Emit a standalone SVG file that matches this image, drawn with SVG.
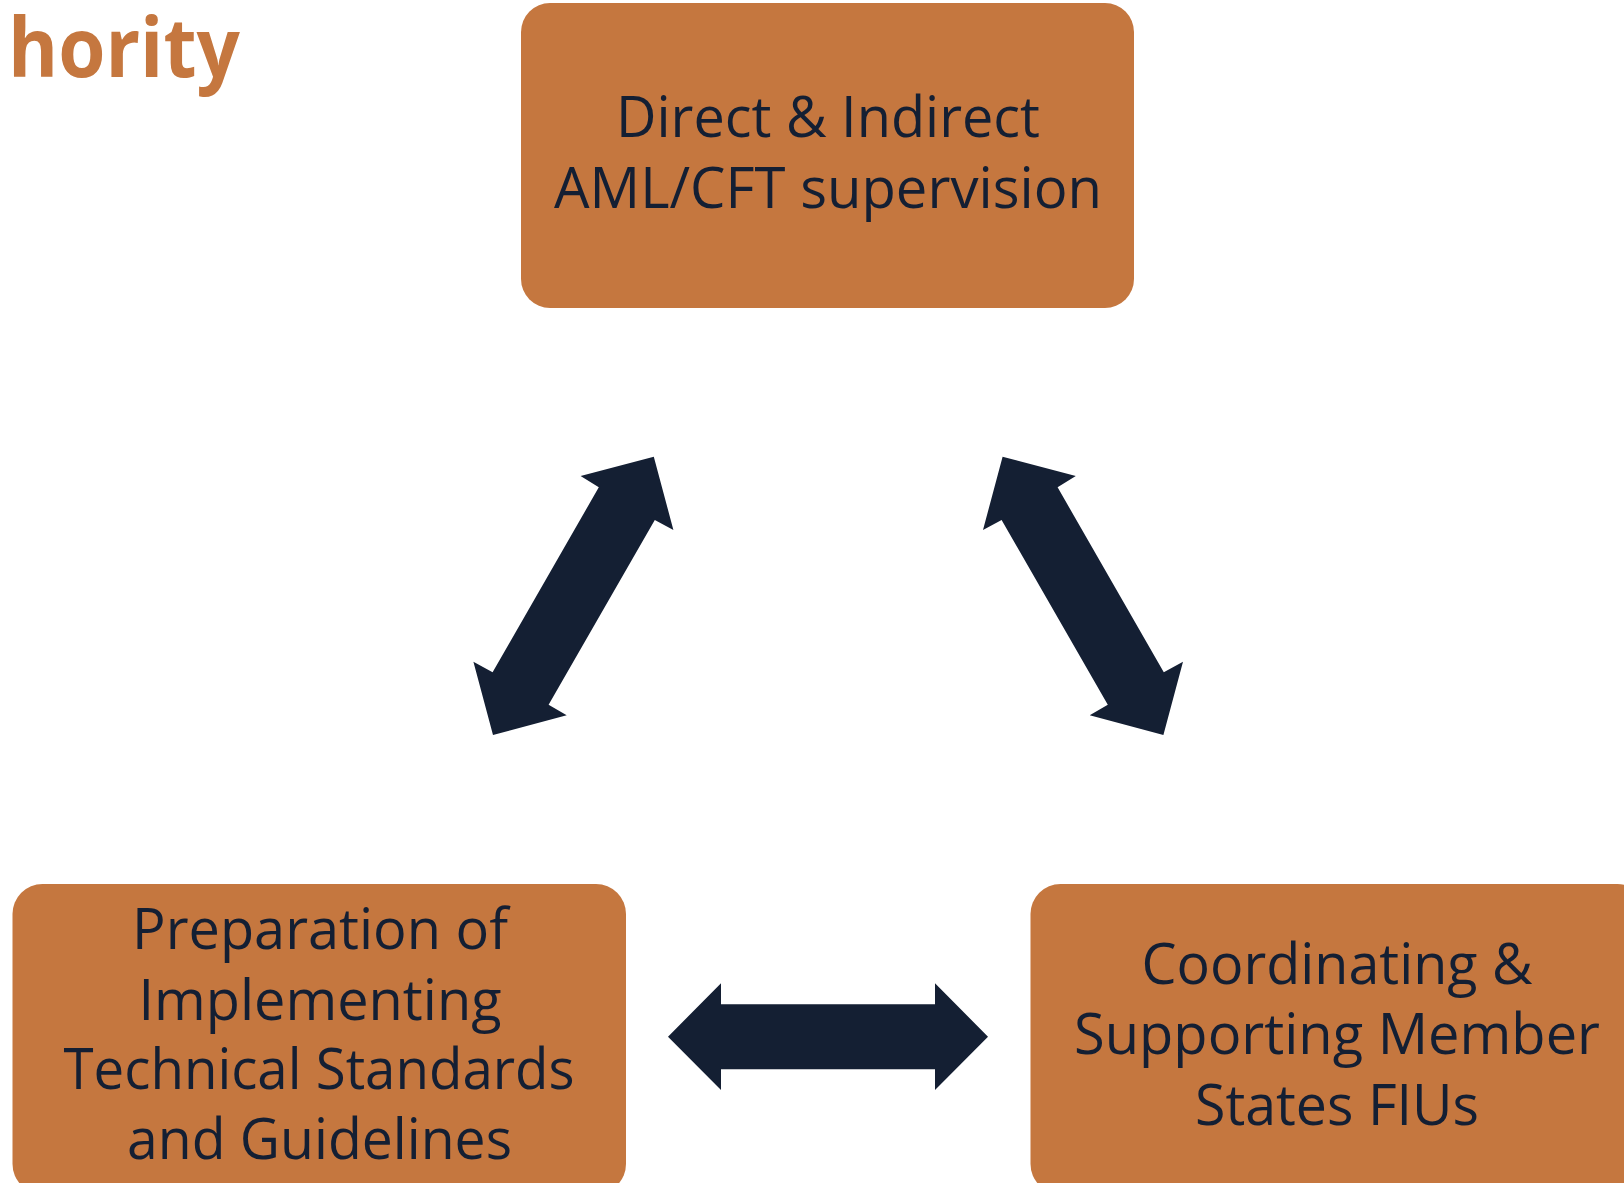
<svg xmlns="http://www.w3.org/2000/svg" width="1624" height="1183" viewBox="0 0 1624 1183">
  <style>
    .box { fill: #C5773F; }
    .label { font-family: "Open Sans", "Liberation Sans", sans-serif; font-size: 56px; fill: #141F33; text-anchor: middle; }
    .title { font-family: "Open Sans", "Liberation Sans", sans-serif; font-weight: bold; font-size: 82px; fill: #C5773F; }
    .arrow { fill: #141F33; }
  </style>
  <rect width="1624" height="1183" fill="#FFFFFF"/>

  <!-- heading, clipped at the left edge -->
  <text class="title" x="8" y="77" textLength="232" lengthAdjust="spacingAndGlyphs">hority</text>

  <!-- top node -->
  <g id="node-supervision">
    <rect class="box" x="521" y="3" width="613" height="305" rx="29" ry="29"/>
    <text class="label" x="828" y="137" textLength="424" lengthAdjust="spacingAndGlyphs">Direct &amp; Indirect</text>
    <text class="label" x="828" y="208" textLength="548" lengthAdjust="spacingAndGlyphs">AML/CFT supervision</text>
  </g>

  <!-- bottom-left node -->
  <g id="node-standards">
    <rect class="box" x="12.5" y="884" width="613.5" height="310" rx="30" ry="30"/>
    <text class="label" x="320" y="949" textLength="376" lengthAdjust="spacingAndGlyphs">Preparation of</text>
    <text class="label" x="320" y="1020" textLength="363" lengthAdjust="spacingAndGlyphs">Implementing</text>
    <text class="label" x="319" y="1089" textLength="511" lengthAdjust="spacingAndGlyphs">Technical Standards</text>
    <text class="label" x="319.5" y="1159" textLength="385" lengthAdjust="spacingAndGlyphs">and Guidelines</text>
  </g>

  <!-- bottom-right node -->
  <g id="node-fius">
    <rect class="box" x="1030.5" y="884" width="617" height="310" rx="30" ry="30"/>
    <text class="label" x="1337" y="984" textLength="391" lengthAdjust="spacingAndGlyphs">Coordinating &amp;</text>
    <text class="label" x="1337" y="1054" textLength="526" lengthAdjust="spacingAndGlyphs">Supporting Member</text>
    <text class="label" x="1337" y="1125" textLength="284" lengthAdjust="spacingAndGlyphs">States FIUs</text>
  </g>

  <!-- two-headed block arrows between the nodes -->
  <g id="connectors">
    <polygon class="arrow" points="653.8,456.7 673.4,530 654.8,520 548.6,704.7 566.7,715.3 493,735 473.4,661.7 492.6,672.3 598.8,487.3 580.6,476"/>
    <polygon class="arrow" points="1002.6,456.7 983,530 1001.6,520 1107.8,704.7 1089.7,715.3 1163.4,735 1183,661.7 1163.8,672.3 1057.6,487.3 1075.8,476"/>
    <polygon class="arrow" points="668,1036.7 721,983.3 721,1004.3 935,1004.3 935,983.3 988,1036.7 935,1090 935,1069.3 721,1069.3 721,1090"/>
  </g>
</svg>
